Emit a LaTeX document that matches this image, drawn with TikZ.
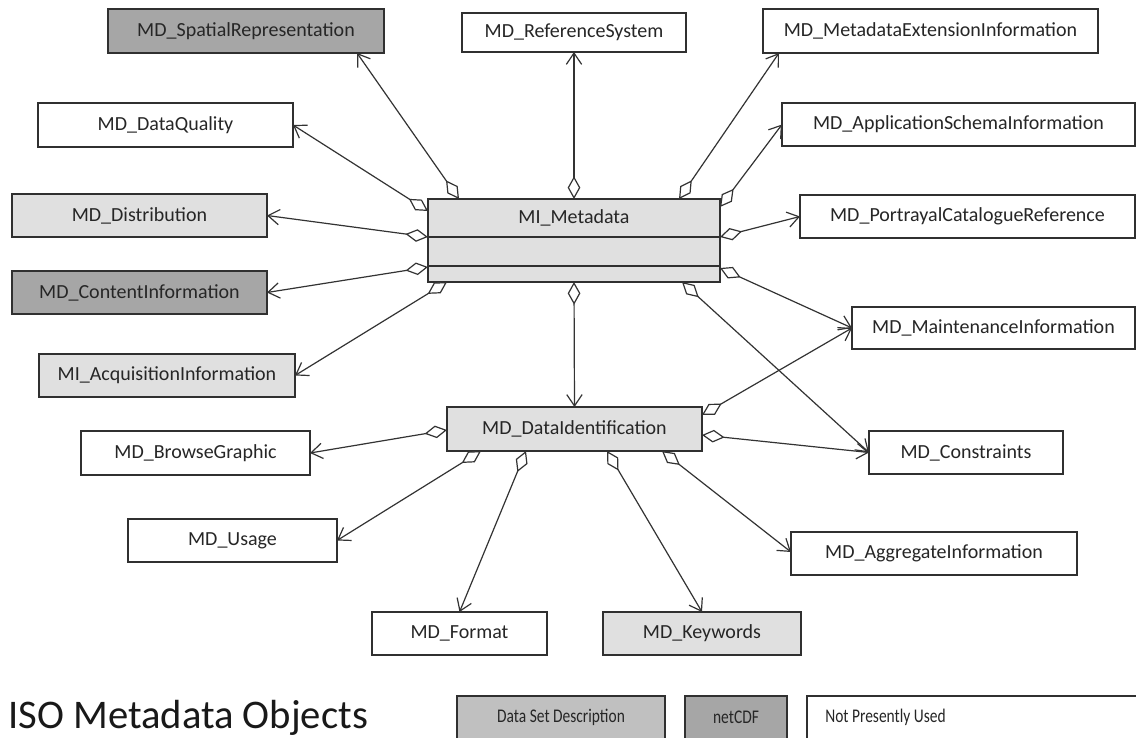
\documentclass[tikz,border=0pt]{standalone}
\usepackage{fontspec}
\setmainfont{Carlito}
\newfontfamily\legfont[FakeStretch=0.8]{Carlito}
\usetikzlibrary{arrows.meta,calc}
\definecolor{lightfill}{HTML}{E0E0E0}
\definecolor{darkfill}{HTML}{A6A6A6}
\definecolor{legfill}{HTML}{C0C0C0}
\definecolor{edgecol}{HTML}{303030}
\definecolor{linecol}{HTML}{333333}
\definecolor{txtcol}{HTML}{262626}
\newcommand\cls[7]{\node[#1, minimum width={(#5-#3)*0.75pt}, minimum height={(#6-#4)*0.75pt}] (#2) at ({(#3+#5)/2},{(#4+#6)/2}) {#7};}
\tikzset{
  box/.style={draw=edgecol, line width=1.1pt, inner sep=0pt, outer sep=0pt, rectangle, text=txtcol},
  wbox/.style={box, fill=white},
  lbox/.style={box, fill=lightfill},
  dbox/.style={box, fill=darkfill},
  gbox/.style={box, fill=legfill},
  agg/.style={draw=linecol, line width=0.9pt,
    {Diamond[fill=white, length=17pt, width=9.5pt]}-{Straight Barb[length=8.5pt, width=11.5pt]}},
  divider/.style={draw=edgecol, line width=1.1pt},
  legtext/.style={text=txtcol, font=\legfont\fontsize{14.5pt}{16pt}\selectfont},
}
\begin{document}
\begin{tikzpicture}[x=0.75pt, y=-0.75pt, font=\fontsize{15pt}{18pt}\selectfont]
\fill[white] (0,0) rectangle (1136,738);
\clip (0,0) rectangle (1136,738);
% classes
\cls{dbox}{sr}{108}{9}{384}{53}{MD\_SpatialRepresentation}
\cls{wbox}{rs}{462}{13}{686}{52}{MD\_ReferenceSystem}
\cls{wbox}{me}{763}{9}{1098}{53}{MD\_MetadataExtensionInformation}
\cls{wbox}{dq}{38}{103}{293}{147}{MD\_DataQuality}
\cls{wbox}{as}{782}{103}{1135}{146}{MD\_ApplicationSchemaInformation}
\cls{lbox}{ds}{12}{194}{267}{237}{MD\_Distribution}
\cls{lbox}{mi}{428}{199}{720}{282}{}
\cls{wbox}{pc}{800}{195}{1135}{238}{MD\_PortrayalCatalogueReference}
\cls{dbox}{ci}{12}{271}{267}{314}{MD\_ContentInformation}
\cls{wbox}{mt}{852}{307}{1135}{349}{MD\_MaintenanceInformation}
\cls{lbox}{aq}{39}{354}{295}{397}{MI\_AcquisitionInformation}
\cls{lbox}{di}{447}{407}{702}{451}{MD\_DataIdentification}
\cls{wbox}{bg}{81}{431}{310}{475}{MD\_BrowseGraphic}
\cls{wbox}{cn}{869}{431}{1063}{474}{MD\_Constraints}
\cls{wbox}{us}{128}{519}{337}{562}{MD\_Usage}
\cls{wbox}{ag}{791}{532}{1077}{575}{MD\_AggregateInformation}
\cls{wbox}{fm}{372}{612}{547}{655}{MD\_Format}
\cls{lbox}{kw}{603}{612}{801}{655}{MD\_Keywords}
% MI_Metadata compartments
\draw[divider] ($(mi.north west)+(0,38)$) -- ($(mi.north east)+(0,38)$);
\draw[divider] ($(mi.north west)+(0,67)$) -- ($(mi.north east)+(0,67)$);
\node[text=txtcol] (mit) at ($(mi.north)+(0,19)$) {MI\_Metadata};
% connectors from MI_Metadata
\draw[agg] ($(mi.north west)+(31,0)$) -- ($(sr.south west)+(249,0)$);
\draw[agg] (mi.north) -- (rs.south);
\draw[agg] ($(mi.north east)+(-41,0)$) -- ($(me.south west)+(16,0)$);
\draw[agg] ($(mi.north east)+(0,8)$) -- (as.west);
\draw[agg] ($(mi.north east)+(0,38)$) -- (pc.west);
\draw[agg] ($(mi.south east)+(0,-14)$) -- (mt.west);
\draw[agg] ($(mi.south east)+(-38,0)$) -- (cn.west);
\draw[agg] (mi.south) -- (di.north);
\draw[agg] ($(mi.north west)+(0,12)$) -- (dq.east);
\draw[agg] ($(mi.north west)+(0,38)$) -- (ds.east);
\draw[agg] ($(mi.south west)+(0,-15)$) -- (ci.east);
\draw[agg] ($(mi.south west)+(19,0)$) -- (aq.east);
% connectors from MD_DataIdentification
\draw[agg] ($(di.north west)+(0,23)$) -- (bg.east);
\draw[agg] ($(di.south west)+(34,0)$) -- (us.east);
\draw[agg] ($(di.south west)+(79,0)$) -- (fm.north);
\draw[agg] ($(di.south west)+(160,0)$) -- (kw.north);
\draw[agg] ($(di.south east)+(-40,0)$) -- ($(ag.north west)+(0,20)$);
\draw[agg] ($(di.north east)+(0,8)$) -- (mt.west);
\draw[agg] ($(di.north east)+(0,28)$) -- (cn.west);
% title
\node[anchor=base west, inner sep=0pt, text=black!90, font=\fontsize{30.5pt}{36pt}\selectfont] (title) at (8,728) {ISO Metadata Objects};
% legend
\cls{gbox}{lg1}{457}{696}{665}{746}{}
\cls{dbox}{lg2}{685}{696}{787}{746}{}
\cls{wbox}{lg3}{807}{696}{1150}{746}{}
\node[legtext] (lt1) at (561,717) {Data Set Description};
\node[legtext] (lt2) at (736,717) {netCDF};
\node[legtext, anchor=west, inner sep=0pt] (lt3) at (825,717) {Not Presently Used};
\end{tikzpicture}
\end{document}
